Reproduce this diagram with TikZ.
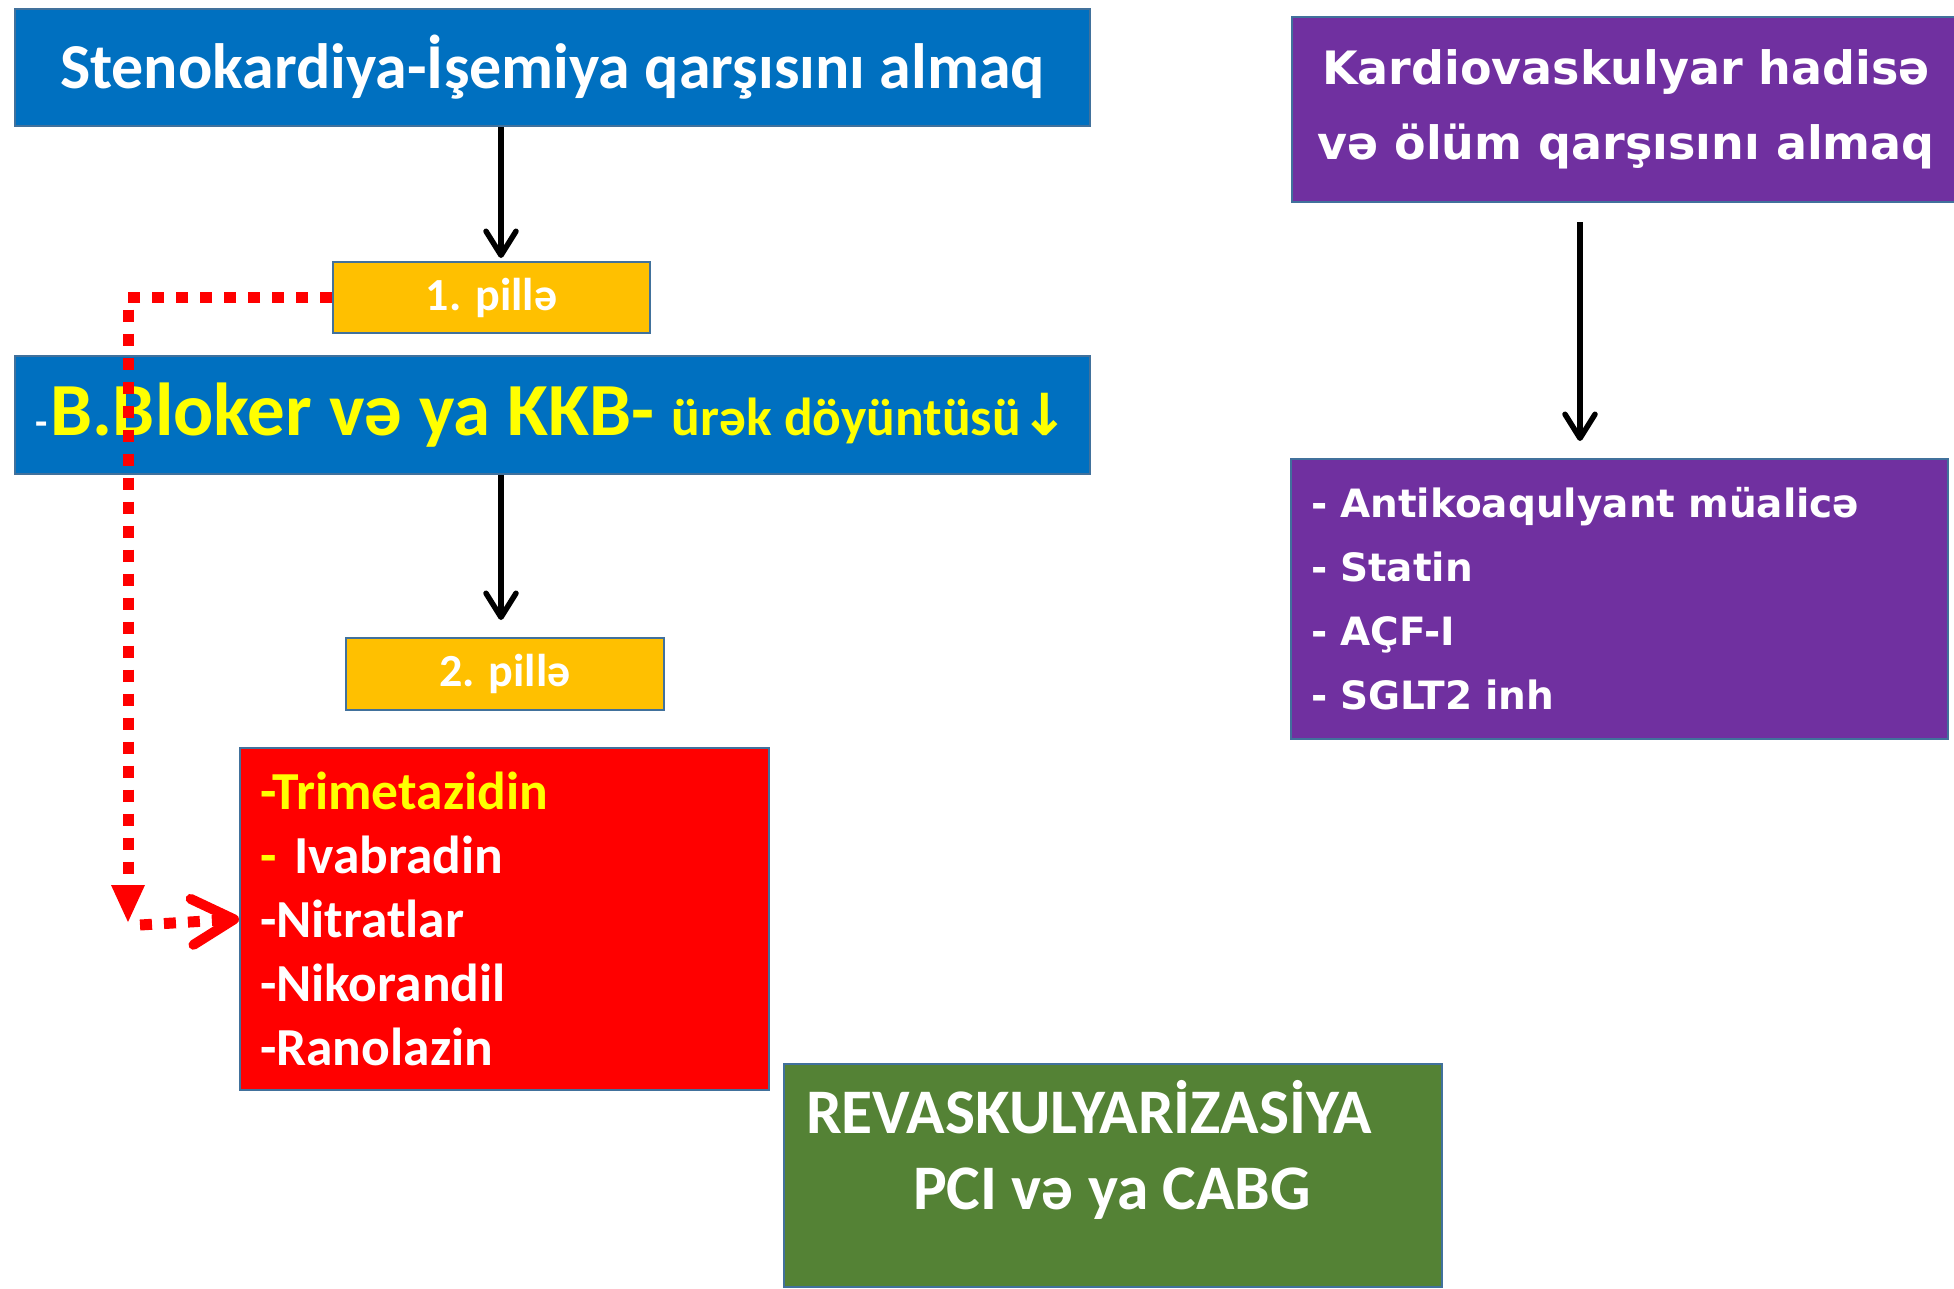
\documentclass[tikz,border=0pt]{standalone}
\usepackage{fontspec}
\setmainfont{Carlito}
\newfontfamily\djv{DejaVu Sans}
\usetikzlibrary{arrows.meta}
\definecolor{ppblue}{HTML}{0070C0}
\definecolor{ppgold}{HTML}{FFC000}
\definecolor{ppred}{HTML}{FF0000}
\definecolor{ppgreen}{HTML}{548235}
\definecolor{pppurple}{HTML}{7030A0}
\definecolor{ppedge}{HTML}{41719C}
\definecolor{ppyellow}{HTML}{FFFF00}
\tikzstyle{box} = [rectangle, draw=ppedge, line width=2pt, inner sep=0pt, text=white, font=\bfseries]
\tikzstyle{bluebox} = [box, fill=ppblue, minimum width=1075pt, minimum height=117pt]
\tikzstyle{stepbox} = [box, fill=ppgold, minimum width=317pt, minimum height=71pt, font=\bfseries\fontsize{46}{50}\selectfont]
\tikzstyle{purplebox} = [box, fill=pppurple, font=\djv\bfseries]
\tikzstyle{blackarrow} = [line width=5.5pt, -{Straight Barb[length=24pt,width=30pt,round]}]
\tikzstyle{reddots} = [draw=ppred, line width=11pt, dash pattern=on 12pt off 12pt]

\begin{document}
\begin{tikzpicture}[x=1pt, y=-1pt]
\useasboundingbox (0,0) rectangle (1954,1288);
\fill[white] (0,0) rectangle (1954,1288);

\node[bluebox, font=\bfseries\fontsize{64}{70}\selectfont] (goal) at (552.5,67.5) {Stenokardiya-İşemiya qarşısını almaq};
\node[stepbox] (p1) at (491.5,297.5) {1. pillə};
\node[bluebox, minimum height=118pt] (bb) at (552.5,415) {{\fontsize{40}{40}\selectfont -}\hspace{3pt}{\color{ppyellow}\fontsize{75}{80}\selectfont B.Bloker və ya KKB- {\fontsize{53.5}{60}\selectfont ürək döyüntüsü{\djv\fontsize{58}{60}\selectfont ↓}}}};
\node[stepbox, minimum width=318pt, minimum height=72pt] (p2) at (505,674) {2. pillə};
\node[box, fill=ppred, align=left, text width=489pt, inner xsep=20pt, minimum height=342pt, font=\bfseries\fontsize{53.5}{64}\selectfont] (drugs) at (504.5,919)
  {{\color{ppyellow}-Trimetazidin}\\{\color{ppyellow}-} Ivabradin\\-Nitratlar\\-Nikorandil\\-Ranolazin};
\node[box, fill=ppgreen, font=\bfseries\fontsize{63.5}{76}\selectfont] (revasc) at (1113,1175.5)
  {\parbox[c][223pt][t]{658pt}{\hspace*{22pt}\rule{0pt}{69.5pt}REVASKULYARİZASİYA\\\hspace*{129pt}PCI və ya CABG}};

\node[purplebox, minimum width=668pt, minimum height=185pt, align=center, font=\djv\bfseries\fontsize{46}{75}\selectfont] (risk) at (1626,109.5) {Kardiovaskulyar hadisə\\və ölüm qarşısını almaq};
\node[purplebox, align=left, text width=617pt, inner xsep=20pt, minimum height=280pt, font=\djv\bfseries\fontsize{39}{64}\selectfont] (lst) at (1619.5,599)
  {- Antikoaqulyant müalicə\\- Statin\\- AÇF-I\\- SGLT2 inh};

\draw[blackarrow, shorten >=3pt] ([xshift=-51.5pt]goal.south) -- ([xshift=-51.5pt]goal.south |- p1.north);
\draw[blackarrow, shorten >=17pt] ([xshift=-51.5pt]bb.south) -- ([xshift=-51.5pt]bb.south |- p2.north);
\draw[blackarrow, shorten <=19pt, shorten >=17pt] ([xshift=-46pt]risk.south) -- ([xshift=-46pt]risk.south |- lst.north);

\coordinate (turn) at (128,922);
\draw[reddots, -{Triangle[length=37pt,width=34pt,line width=0pt]}] (p1.west) -| (turn);
\draw[reddots, -{Straight Barb[length=42pt,width=46pt,line width=10pt,round]}] ([xshift=12pt,yshift=-3pt]turn) -- (drugs.west);
\end{tikzpicture}
\end{document}
